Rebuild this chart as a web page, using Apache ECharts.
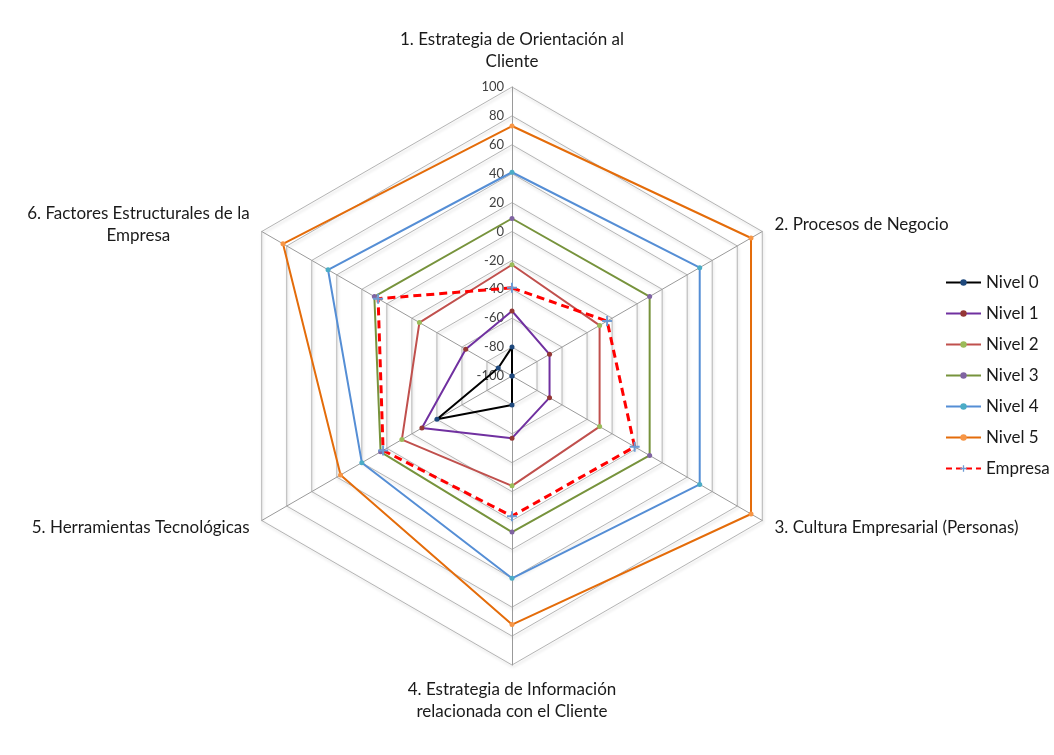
<!DOCTYPE html>
<html>
<head>
<meta charset="UTF-8">
<title>Radar niveles</title>
<script src="https://cdn.jsdelivr.net/npm/echarts@6/dist/echarts.min.js"></script>
<style>
    body {
        margin: 0;
        padding: 0;
        overflow: hidden;
        background: #fff;
    }
    #chart {
        width: 1054px;
        height: 755px;
    }
</style>
</head>
<body>
<div id="chart"></div>
<script>
    // ejes en el orden del dibujo original (1 arriba, luego sentido horario)
    const ejes = [
        '1. Estrategia de Orientación al\nCliente',
        '2. Procesos de Negocio',
        '3. Cultura Empresarial (Personas)',
        '4. Estrategia de Información\nrelacionada con el Cliente',
        '5. Herramientas Tecnológicas',
        '6. Factores Estructurales de la\nEmpresa'
    ];
    const nombres = ['Nivel 0', 'Nivel 1', 'Nivel 2', 'Nivel 3', 'Nivel 4', 'Nivel 5', 'Empresa'];
    const nivel0 = [-80, -100, -100, -80, -40, -89];
    const nivel1 = [-55, -70, -70, -57, -28, -63];
    const nivel2 = [-23, -30, -30, -24, -12, -26];
    const nivel3 = [9, 10, 10, 8, 5, 10];
    const nivel4 = [41, 50, 50, 40, 20, 47];
    const nivel5 = [73, 91, 91, 72, 37, 83];
    const empresa = [-39, -24, -2, -3, 3, 7];
    const escalaMin = -100;
    const escalaMax = 100;

    const lineColors = ['#000000', '#7030A0', '#C0504D', '#77933C', '#558ED5', '#E46C0A', '#FF0000'];
    const markColors = ['#1F497D', '#953735', '#9BBB59', '#8064A2', '#4BACC6', '#F79646', '#6E9BD4'];
    const plus = 'path://M4,0 H6 V4 H10 V6 H6 V10 H4 V6 H0 V4 H4 Z';

    // echarts reparte los ejes en sentido antihorario
    const orden = [0, 5, 4, 3, 2, 1];
    const reorder = arr => orden.map(i => arr[i]);

    const valores = [nivel0, nivel1, nivel2, nivel3, nivel4, nivel5, empresa];
    const font = 'Lato, "Open Sans", sans-serif';

    const radarData = valores.map((v, i) => {
        const esEmpresa = i === 6;
        return {
            name: nombres[i],
            value: reorder(v),
            symbol: esEmpresa ? plus : 'circle',
            symbolSize: esEmpresa ? 10 : 5,
            lineStyle: {
                color: lineColors[i],
                width: esEmpresa ? 3 : 2,
                type: esEmpresa ? [8, 5] : 'solid'
            },
            itemStyle: {color: markColors[i]}
        };
    });

    // series vacias solo para que la leyenda pinte linea + marcador
    const legendSeries = valores.map((v, i) => ({
        type: 'line',
        name: nombres[i],
        data: [],
        symbol: i === 6 ? plus : 'circle',
        lineStyle: {color: lineColors[i], width: i === 6 ? 3 : 2, type: i === 6 ? [6, 4] : 'solid'},
        itemStyle: {color: markColors[i]}
    }));

    const ec = echarts.init(document.getElementById('chart'));
    const option = {
        animation: false,
        textStyle: {fontFamily: font},
        grid: {show: false, left: 0, top: 0, width: 1, height: 1},
        xAxis: {show: false, type: 'category', data: []},
        yAxis: {show: false, type: 'value'},
        legend: {
            orient: 'vertical',
            left: 945,
            top: 274,
            padding: 0,
            itemWidth: 35,
            itemHeight: 8,
            itemGap: 14,
            textStyle: {fontSize: 17, color: '#1a1a1a', fontFamily: font},
            data: nombres
        },
        radar: {
            center: [512, 376],
            radius: 289,
            startAngle: 90,
            shape: 'polygon',
            splitNumber: 10,
            nameGap: 14,
            axisName: {
                color: '#1a1a1a',
                fontSize: 17,
                fontFamily: font,
                lineHeight: 22,
                formatter: name => name.split('\n').map(s => '{c|' + s + '}').join('\n'),
                rich: {
                    c: {align: 'center', fontSize: 17, lineHeight: 22, color: '#1a1a1a', fontFamily: font}
                }
            },
            axisLine: {lineStyle: {color: '#9a9a9a', width: 1}},
            splitLine: {
                lineStyle: {
                    color: '#b4b4b4',
                    width: 1,
                    shadowColor: 'rgba(0,0,0,0.18)',
                    shadowBlur: 3,
                    shadowOffsetX: 1,
                    shadowOffsetY: 2
                }
            },
            splitArea: {show: false},
            axisTick: {show: false},
            axisLabel: {show: false},
            indicator: reorder(ejes).map((n, i) => ({
                name: n,
                min: escalaMin,
                max: escalaMax,
                axisLabel: i === 0
                    ? {show: true, fontSize: 13, color: '#404040', fontFamily: font}
                    : {show: false}
            }))
        },
        series: [
            {
                type: 'radar',
                data: radarData
            }
        ].concat(legendSeries)
    };
    ec.setOption(option);
</script>
</body>
</html>
